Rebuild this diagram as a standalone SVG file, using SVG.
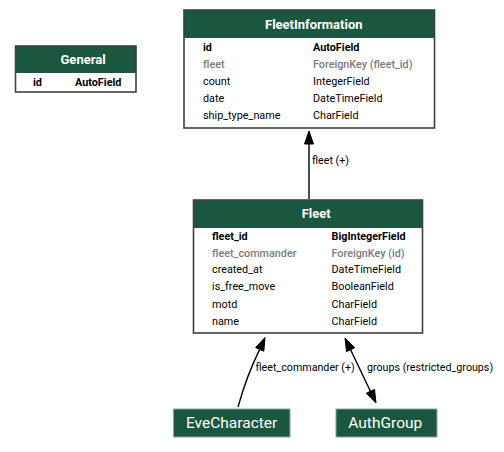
<svg xmlns="http://www.w3.org/2000/svg" width="504" height="452" viewBox="0 0 504 452">
<style>
.box{fill:none;stroke:#404040;stroke-width:1.6}
.hdr{fill:#1b563f}
.ht{font-family:Roboto,"Liberation Sans",sans-serif;font-size:13px;font-weight:bold;fill:#ffffff}
.f{font-family:Roboto,"Liberation Sans",sans-serif;font-size:10.8px;fill:#000000}
.pk{font-weight:bold}
.fk{fill:#7b7b7b;font-weight:500}
.nb{fill:#1b563f;stroke:#8aa89a;stroke-width:1}
.nt{font-family:Roboto,"Liberation Sans",sans-serif;font-size:15.5px;fill:#ffffff}
.e{fill:none;stroke:#000000;stroke-width:1.4}
.ah{fill:#000000;stroke:#000000;stroke-width:1}
.el{font-family:Roboto,"Liberation Sans",sans-serif;font-size:10.7px;fill:#000000}
</style>
<rect width="504" height="452" fill="#ffffff"/>
<g id="General">
<rect x="15.5" y="46" width="120.5" height="46" fill="#ffffff"/>
<rect class="hdr" x="15.5" y="46" width="120.5" height="27"/>
<rect class="box" x="15.5" y="46" width="120.5" height="46"/>
<text class="ht" x="60.5" y="63.8">General</text>
<text class="f pk" x="33" y="85.8">id</text>
<text class="f pk" x="75" y="85.8">AutoField</text>
</g>
<g id="FleetInformation">
<rect x="184" y="10" width="250.5" height="118" fill="#ffffff"/>
<rect class="hdr" x="184" y="10" width="250.5" height="28"/>
<rect class="box" x="184" y="10" width="250.5" height="118"/>
<text class="ht" x="265" y="28.5">FleetInformation</text>
<text class="f pk" x="203" y="50.6">id</text>
<text class="f pk" x="313" y="50.6">AutoField</text>
<text class="f fk" x="203" y="67.8">fleet</text>
<text class="f fk" x="313" y="67.8">ForeignKey (fleet_id)</text>
<text class="f" x="203" y="85">count</text>
<text class="f" x="313" y="85">IntegerField</text>
<text class="f" x="203" y="101.8">date</text>
<text class="f" x="313" y="101.8">DateTimeField</text>
<text class="f" x="203" y="118.6">ship_type_name</text>
<text class="f" x="313" y="118.6">CharField</text>
</g>
<g id="Fleet">
<rect x="193.5" y="200" width="229" height="133" fill="#ffffff"/>
<rect class="hdr" x="193.5" y="200" width="229" height="28"/>
<rect class="box" x="193.5" y="200" width="229" height="133"/>
<text class="ht" x="301.7" y="218">Fleet</text>
<text class="f pk" x="212" y="239.6">fleet_id</text>
<text class="f pk" x="331.5" y="239.6">BigIntegerField</text>
<text class="f fk" x="212" y="256.5">fleet_commander</text>
<text class="f fk" x="331.5" y="256.5">ForeignKey (id)</text>
<text class="f" x="212" y="273.3">created_at</text>
<text class="f" x="331.5" y="273.3">DateTimeField</text>
<text class="f" x="212" y="290.4">is_free_move</text>
<text class="f" x="331.5" y="290.4">BooleanField</text>
<text class="f" x="212" y="307.6">motd</text>
<text class="f" x="331.5" y="307.6">CharField</text>
<text class="f" x="212" y="324.8">name</text>
<text class="f" x="331.5" y="324.8">CharField</text>
</g>
<g id="EveCharacter">
<rect class="nb" x="173.5" y="409" width="116.5" height="28"/>
<text class="nt" x="186" y="427.5">EveCharacter</text>
</g>
<g id="AuthGroup">
<rect class="nb" x="336" y="409" width="101" height="28"/>
<text class="nt" x="348.3" y="427.5">AuthGroup</text>
</g>
<g id="connectors">
<line class="e" x1="309" y1="199" x2="309" y2="144"/>
<polygon class="ah" points="309,131 304.5,144 313.5,144"/>
<text class="el" x="312" y="163.8">fleet (+)</text>
<path class="e" d="M238,407 C243,389 251,367 259.7,349.4"/>
<polygon class="ah" points="265,337.5 255.6,347.6 263.8,351.2"/>
<text class="el" x="255.5" y="370.8">fleet_commander (+)</text>
<line class="e" x1="350.6" y1="349.7" x2="370.4" y2="391.3"/>
<polygon class="ah" points="345,338 354.7,347.8 346.5,351.6"/>
<polygon class="ah" points="376,403 374.5,389.4 366.3,393.2"/>
<text class="el" x="367" y="370.8">groups (restricted_groups)</text>
</g>
</svg>
